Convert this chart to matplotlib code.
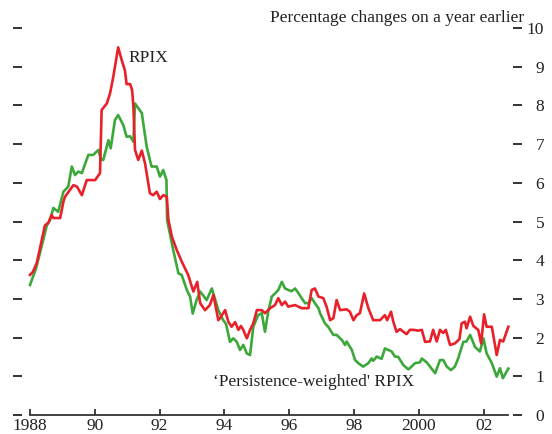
import matplotlib
matplotlib.use("Agg")
import matplotlib.pyplot as plt

plt.rcParams['font.family'] = ['Liberation Serif', 'DejaVu Serif']

# RPIX (decimal year, % change on a year earlier)
rpix_years = [1988.00, 1988.09, 1988.21, 1988.46, 1988.56, 1988.67, 1988.72, 1988.93,
              1989.03, 1989.08, 1989.34, 1989.45, 1989.60, 1989.75, 1990.01, 1990.16,
              1990.21, 1990.37, 1990.47, 1990.57, 1990.72, 1990.83, 1990.93, 1990.98,
              1991.09, 1991.15, 1991.19, 1991.24, 1991.34, 1991.45, 1991.55, 1991.70,
              1991.80, 1991.91, 1992.01, 1992.11, 1992.22, 1992.27, 1992.38, 1992.53,
              1992.69, 1992.88, 1993.04, 1993.16, 1993.25, 1993.40, 1993.55, 1993.66,
              1993.81, 1993.86, 1994.02, 1994.12, 1994.22, 1994.33, 1994.43, 1994.51,
              1994.58, 1994.69, 1994.79, 1994.89, 1995.00, 1995.15, 1995.25, 1995.41,
              1995.56, 1995.66, 1995.77, 1995.87, 1995.97, 1996.18, 1996.38, 1996.59,
              1996.69, 1996.79, 1996.90, 1997.05, 1997.15, 1997.26, 1997.36, 1997.46,
              1997.57, 1997.77, 1997.87, 1997.98, 1998.08, 1998.18, 1998.31, 1998.44,
              1998.59, 1998.80, 1998.95, 1999.02, 1999.14, 1999.21, 1999.31, 1999.42,
              1999.52, 1999.62, 1999.72, 1999.83, 1999.98, 2000.09, 2000.19, 2000.34,
              2000.44, 2000.55, 2000.65, 2000.75, 2000.83, 2000.96, 2001.11, 2001.25,
              2001.32, 2001.42, 2001.47, 2001.58, 2001.68, 2001.83, 2001.92, 2002.01,
              2002.09, 2002.25, 2002.40, 2002.50, 2002.60, 2002.76]
rpix_values = [3.62, 3.70, 3.93, 4.90, 4.96, 5.17, 5.09, 5.09,
               5.51, 5.64, 5.94, 5.90, 5.68, 6.07, 6.07, 6.25,
               7.88, 8.05, 8.31, 8.74, 9.50, 9.17, 8.90, 8.55,
               8.55, 8.40, 7.97, 6.85, 6.59, 6.83, 6.50, 5.73,
               5.68, 5.77, 5.58, 5.68, 5.64, 5.04, 4.60, 4.26,
               3.95, 3.62, 3.19, 3.44, 2.89, 2.71, 2.84, 3.10,
               2.45, 2.50, 2.71, 2.41, 2.28, 2.40, 2.20, 2.30,
               2.20, 1.98, 2.20, 2.37, 2.71, 2.71, 2.63, 2.76,
               2.84, 3.02, 2.84, 2.93, 2.80, 2.84, 2.76, 2.76,
               3.23, 3.27, 3.06, 3.02, 2.80, 2.45, 2.50, 2.97,
               2.71, 2.73, 2.67, 2.45, 2.58, 2.63, 3.14, 2.76,
               2.45, 2.45, 2.58, 2.45, 2.67, 2.41, 2.15, 2.22,
               2.15, 2.09, 2.20, 2.20, 2.18, 2.20, 1.89, 1.90,
               2.20, 1.90, 2.20, 2.12, 2.20, 1.81, 1.85, 1.96,
               2.37, 2.41, 2.24, 2.54, 2.30, 2.20, 1.85, 2.60,
               2.28, 2.28, 1.55, 1.94, 1.90, 2.28]

# 'Persistence-weighted' RPIX
pw_years = [1988.00, 1988.19, 1988.37, 1988.52, 1988.62, 1988.72, 1988.87, 1989.03,
            1989.18, 1989.29, 1989.39, 1989.49, 1989.60, 1989.80, 1989.95, 1990.11,
            1990.19, 1990.26, 1990.42, 1990.49, 1990.62, 1990.72, 1990.88, 1990.98,
            1991.09, 1991.19, 1991.24, 1991.45, 1991.60, 1991.75, 1991.91, 1992.01,
            1992.11, 1992.21, 1992.23, 1992.42, 1992.58, 1992.68, 1992.84, 1992.94,
            1993.02, 1993.14, 1993.25, 1993.45, 1993.61, 1993.81, 1993.96, 1994.05,
            1994.17, 1994.27, 1994.38, 1994.48, 1994.58, 1994.69, 1994.79, 1994.89,
            1995.04, 1995.15, 1995.25, 1995.35, 1995.46, 1995.56, 1995.66, 1995.77,
            1995.87, 1995.97, 1996.07, 1996.18, 1996.28, 1996.38, 1996.49, 1996.59,
            1996.69, 1996.79, 1996.90, 1996.95, 1997.10, 1997.20, 1997.36, 1997.46,
            1997.62, 1997.72, 1997.77, 1997.93, 1998.03, 1998.13, 1998.28, 1998.44,
            1998.54, 1998.59, 1998.70, 1998.85, 1998.95, 1999.06, 1999.16, 1999.26,
            1999.36, 1999.52, 1999.67, 1999.72, 1999.88, 2000.03, 2000.09, 2000.24,
            2000.39, 2000.50, 2000.65, 2000.75, 2000.86, 2000.99, 2001.11, 2001.21,
            2001.37, 2001.47, 2001.58, 2001.73, 2001.88, 2001.99, 2002.09, 2002.25,
            2002.40, 2002.50, 2002.59, 2002.76]
pw_values = [3.36, 3.80, 4.40, 4.90, 5.04, 5.35, 5.25, 5.77,
             5.90, 6.42, 6.20, 6.29, 6.25, 6.72, 6.72, 6.85,
             6.60, 6.59, 7.10, 6.89, 7.62, 7.75, 7.49, 7.19,
             7.20, 7.06, 8.05, 7.80, 6.93, 6.42, 6.42, 6.16,
             6.33, 6.07, 5.04, 4.26, 3.66, 3.62, 3.23, 3.06,
             2.62, 2.97, 3.19, 2.97, 3.27, 2.71, 2.45, 2.35,
             1.89, 1.98, 1.89, 1.68, 1.81, 1.59, 1.55, 2.28,
             2.58, 2.63, 2.15, 2.67, 3.06, 3.14, 3.23, 3.44,
             3.27, 3.23, 3.20, 3.27, 3.15, 3.02, 2.89, 2.89,
             3.02, 2.89, 2.76, 2.63, 2.37, 2.28, 2.07, 2.07,
             1.94, 1.81, 1.90, 1.68, 1.42, 1.34, 1.25, 1.34,
             1.46, 1.40, 1.51, 1.45, 1.72, 1.68, 1.64, 1.51,
             1.50, 1.29, 1.18, 1.21, 1.34, 1.36, 1.46, 1.36,
             1.20, 1.08, 1.42, 1.42, 1.25, 1.16, 1.25, 1.46,
             1.89, 1.90, 2.07, 1.76, 1.64, 1.98, 1.59, 1.34,
             0.99, 1.21, 0.95, 1.20]

tick_years = [1988, 1990, 1992, 1994, 1996, 1998, 2000, 2002]
tick_labels = ['1988', '90', '92', '94', '96', '98', '2000', '02']
y_ticks = list(range(0, 11))

red = '#e8202a'
green = '#3da83a'
grey = '#333333'

fig = plt.figure(figsize=(5.52, 4.34), dpi=100)
ax = fig.add_axes([22 / 552, 19 / 434, 491 / 552, 387 / 434])

ax.plot(pw_years, pw_values, color=green, lw=1.9)
ax.plot(rpix_years, rpix_values, color=red, lw=1.9)

ax.set_xlim(1987.753, 2002.903)
ax.set_ylim(0, 10)

for s in ['left', 'right', 'top']:
    ax.spines[s].set_visible(False)
ax.spines['bottom'].set_color(grey)
ax.spines['bottom'].set_linewidth(1.3)
ax.spines['bottom'].set_bounds(1988, 2002.76)

ax.set_xticks(tick_years)
ax.set_xticklabels(tick_labels)
ax.tick_params(axis='x', direction='in', length=4.5, width=1.3, color=grey,
               labelsize=12.5, pad=2, labelcolor='#222222')

ax.set_yticks(y_ticks)
ax.tick_params(axis='y', which='both', left=True, right=True, labelleft=False,
               labelright=True, direction='out', length=6.5, width=1.4,
               color=grey, labelsize=12.5, labelcolor='#222222', pad=16)
for lab in ax.get_yticklabels():
    lab.set_horizontalalignment('right')

ax.text(1991.05, 9.22, 'RPIX', fontsize=12.5, color='#222222', va='center', ha='left')
ax.text(1993.65, 0.85, "\u2018Persistence-weighted' RPIX", fontsize=12.5,
        color='#222222', va='center', ha='left')
fig.text(524 / 552, 1 - 22 / 434, 'Percentage changes on a year earlier',
         fontsize=12.5, color='#222222', ha='right', va='baseline')

fig.savefig('out.png', dpi=100)
